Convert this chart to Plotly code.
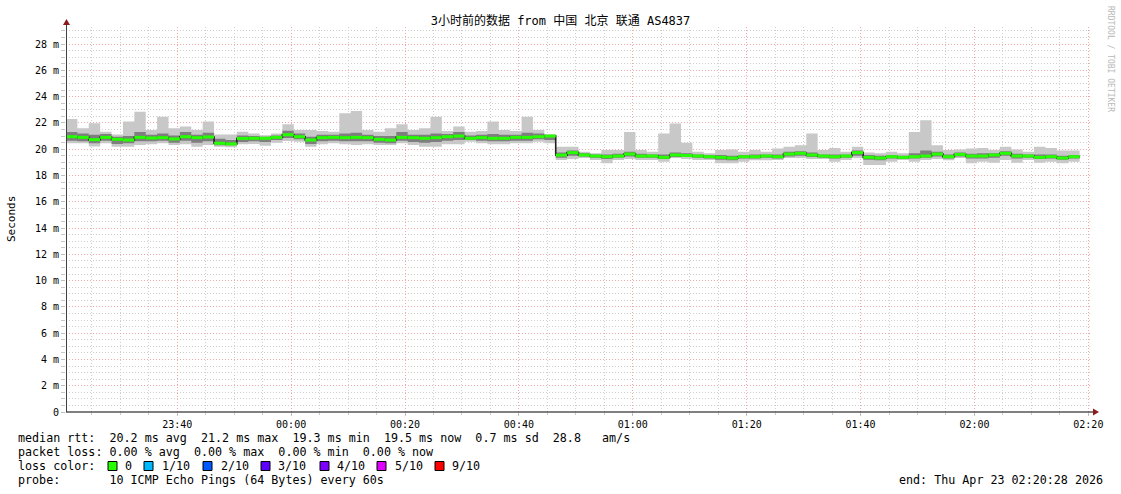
import plotly.graph_objects as go
import pandas as pd

# ---------------- data (values in ms, 2-minute steps) ----------------
start_time = "2026-04-22 23:20:28"
end_time = "2026-04-23 02:20:28"
step_minutes = 2

median_ms = [20.95, 20.90, 20.73, 20.90, 20.75, 20.70, 20.90, 20.85, 20.88, 20.78,
             20.95, 20.88, 20.93, 20.45, 20.40, 20.82, 20.83, 20.83, 20.90, 21.10,
             20.95, 20.70, 20.88, 20.90, 20.88, 20.90, 20.88, 20.75, 20.70, 20.90,
             20.88, 20.83, 20.88, 20.95, 21.00, 20.83, 20.88, 20.83, 20.83, 20.90,
             20.90, 20.95, 21.00, 19.55, 19.74, 19.56, 19.48, 19.43, 19.48, 19.63,
             19.48, 19.48, 19.38, 19.56, 19.52, 19.48, 19.43, 19.38, 19.33, 19.43,
             19.43, 19.48, 19.43, 19.63, 19.69, 19.56, 19.48, 19.43, 19.48, 19.74,
             19.38, 19.33, 19.43, 19.38, 19.43, 19.48, 19.63, 19.43, 19.60, 19.48,
             19.48, 19.56, 19.69, 19.48, 19.48, 19.38, 19.43, 19.33, 19.43]

high_ms = [22.30, 21.60, 21.97, 21.33, 21.12, 22.10, 22.85, 21.46, 22.47, 21.59,
           21.72, 21.46, 22.10, 21.12, 21.12, 21.33, 21.20, 21.07, 21.20, 21.90,
           21.46, 21.46, 21.38, 21.33, 22.73, 22.90, 21.46, 21.33, 21.59, 21.90,
           21.46, 21.59, 22.47, 21.38, 21.72, 21.33, 21.38, 22.10, 21.46, 21.38,
           22.47, 21.46, 21.12, 20.19, 20.19, 19.81, 19.69, 19.94, 19.94, 21.30,
           19.94, 19.81, 21.20, 21.95, 20.50, 19.81, 19.69, 19.94, 19.98, 19.81,
           19.94, 19.81, 20.06, 20.19, 20.30, 21.20, 19.94, 20.10, 19.81, 20.19,
           19.75, 19.69, 19.81, 19.69, 21.30, 22.20, 20.30, 19.94, 19.98, 20.06,
           20.10, 19.94, 20.19, 19.98, 19.81, 20.19, 20.10, 19.90, 19.90]

low_ms = [20.45, 20.45, 20.20, 20.45, 20.19, 20.19, 20.32, 20.37, 20.45, 20.32,
          20.37, 20.19, 20.32, 20.19, 20.15, 20.37, 20.40, 20.27, 20.50, 20.62,
          20.57, 20.19, 20.37, 20.45, 20.37, 20.32, 20.37, 20.32, 20.32, 20.45,
          20.32, 20.19, 20.19, 20.37, 20.37, 20.57, 20.45, 20.37, 20.37, 20.45,
          20.45, 20.57, 20.45, 19.18, 19.25, 19.33, 19.18, 18.93, 19.18, 19.25,
          19.18, 19.18, 19.05, 19.33, 19.25, 19.18, 19.18, 18.93, 18.93, 19.05,
          19.15, 19.15, 19.18, 19.33, 19.33, 19.25, 19.25, 19.05, 19.18, 19.33,
          18.80, 18.80, 19.05, 19.18, 19.05, 19.18, 19.25, 19.15, 19.33, 18.93,
          19.05, 18.97, 19.18, 18.97, 19.18, 18.97, 19.05, 18.93, 19.05]

inner_high_ms = [21.30, 21.20, 21.10, 21.15, 20.95, 21.00, 21.30, 21.10, 21.20, 21.05,
                 21.30, 21.10, 21.25, 20.80, 20.70, 21.05, 21.00, 20.95, 21.05, 21.40,
                 21.20, 20.95, 21.10, 21.10, 21.20, 21.25, 21.10, 21.00, 21.00, 21.30,
                 21.10, 21.10, 21.20, 21.15, 21.30, 21.05, 21.10, 21.15, 21.10, 21.10,
                 21.25, 21.20, 21.10, 19.75, 19.90, 19.70, 19.60, 19.60, 19.65, 19.80,
                 19.65, 19.60, 19.60, 19.75, 19.70, 19.60, 19.55, 19.55, 19.50, 19.55,
                 19.60, 19.60, 19.60, 19.80, 19.85, 19.75, 19.60, 19.60, 19.60, 19.90,
                 19.55, 19.50, 19.55, 19.50, 19.70, 19.90, 19.80, 19.60, 19.75, 19.65,
                 19.70, 19.70, 19.85, 19.65, 19.60, 19.60, 19.60, 19.50, 19.55]

inner_low_ms = [20.65, 20.60, 20.45, 20.65, 20.40, 20.45, 20.60, 20.60, 20.65, 20.50,
                20.65, 20.50, 20.60, 20.30, 20.30, 20.55, 20.60, 20.55, 20.70, 20.85,
                20.75, 20.40, 20.60, 20.65, 20.60, 20.60, 20.60, 20.50, 20.45, 20.65,
                20.55, 20.50, 20.55, 20.65, 20.70, 20.70, 20.65, 20.60, 20.60, 20.65,
                20.65, 20.75, 20.70, 19.35, 19.50, 19.45, 19.35, 19.25, 19.35, 19.45,
                19.35, 19.35, 19.25, 19.40, 19.40, 19.35, 19.30, 19.20, 19.15, 19.30,
                19.30, 19.35, 19.30, 19.45, 19.50, 19.40, 19.35, 19.30, 19.35, 19.50,
                19.20, 19.15, 19.30, 19.30, 19.30, 19.35, 19.45, 19.30, 19.45, 19.30,
                19.30, 19.35, 19.50, 19.30, 19.35, 19.25, 19.30, 19.20, 19.30]

y_tick_values = list(range(0, 30, 2))
y_tick_labels = ["0"] + [f"{v} m" for v in y_tick_values[1:]]

title_text = "3小时前的数据 from 中国 北京 联通 AS4837"
stats_lines = [
    "median rtt:  20.2 ms avg  21.2 ms max  19.3 ms min  19.5 ms now  0.7 ms sd  28.8   am/s",
    "packet loss: 0.00 % avg  0.00 % max  0.00 % min  0.00 % now",
    "loss color:",
    "probe:       10 ICMP Echo Pings (64 Bytes) every 60s",
]
loss_labels = ["0", "1/10", "2/10", "3/10", "4/10", "5/10", "9/10"]
loss_colors = ["#26ff00", "#00b8ff", "#0059ff", "#5e00ff", "#7e00ff", "#dd00ff", "#ff0000"]
end_text = "end: Thu Apr 23 02:20:28 2026"

# ---------------- geometry helpers ----------------
W, H = 1121, 494
ML, MR, MT, MB = 66, 30, 27, 82
PW, PH = W - ML - MR, H - MT - MB


def px_x(px):
    return (px - ML) / PW


def px_y(py):
    return (H - MB - py) / PH


# ---------------- build traces ----------------
t0 = pd.Timestamp(start_time)
step = pd.Timedelta(minutes=step_minutes)
times = [t0 + step * i for i in range(len(median_ms) + 1)]


def closed(vals):
    return list(vals) + [vals[-1]]


MONO = "DejaVu Sans Mono"
fig = go.Figure()

fig.add_trace(go.Scatter(x=times, y=closed(low_ms), mode="lines", line=dict(width=0, shape="hv"),
                         hoverinfo="skip"))
fig.add_trace(go.Scatter(x=times, y=closed(high_ms), mode="lines", line=dict(width=0, shape="hv"),
                         fill="tonexty", fillcolor="#c8c8c8", hoverinfo="skip"))
fig.add_trace(go.Scatter(x=times, y=closed(inner_low_ms), mode="lines", line=dict(width=0, shape="hv"),
                         hoverinfo="skip"))
fig.add_trace(go.Scatter(x=times, y=closed(inner_high_ms), mode="lines", line=dict(width=0, shape="hv"),
                         fill="tonexty", fillcolor="#7e7e7e", hoverinfo="skip"))
# thin dark median (gives the black connectors)
fig.add_trace(go.Scatter(x=times, y=closed(median_ms), mode="lines",
                         line=dict(width=1.6, shape="hv", color="#202020"), hoverinfo="skip"))
# green horizontal median segments
gx, gy = [], []
for i, m in enumerate(median_ms):
    gx += [times[i], times[i + 1], None]
    gy += [m, m, None]
fig.add_trace(go.Scatter(x=gx, y=gy, mode="lines", line=dict(width=3, color="#26ff00"),
                         connectgaps=False, hoverinfo="skip"))

# ---------------- layout ----------------
fig.update_layout(
    width=W, height=H, autosize=False,
    margin=dict(l=ML, r=MR, t=MT, b=MB, pad=0),
    paper_bgcolor="white", plot_bgcolor="white",
    showlegend=False,
    font=dict(family=MONO, size=10, color="#000000"),
    title=dict(text=title_text, x=0.5, xanchor="center", xref="container",
               y=1 - 21 / H, yanchor="middle", yref="container",
               font=dict(family=MONO + ", Noto Sans CJK SC", size=12, color="#000000")),
)

DOT = "1px,2px"
MAJ = "#f4a6a6"
MIN = "#cfcfcf"

fig.update_xaxes(
    type="date",
    range=[pd.Timestamp(start_time), pd.Timestamp(end_time)],
    tickformat="%H:%M",
    dtick=20 * 60 * 1000,
    tick0="2026-04-22 23:40:00",
    showgrid=True, gridcolor=MAJ, griddash=DOT, gridwidth=1,
    ticks="outside", ticklen=3, tickcolor="#c0c0c0",
    tickfont=dict(family=MONO, size=10, color="#000000"),
    showline=False, zeroline=False,
    minor=dict(dtick=5 * 60 * 1000, tick0="2026-04-22 23:20:00", showgrid=True,
               gridcolor=MIN, griddash=DOT, gridwidth=1,
               ticks="outside", ticklen=2, tickcolor="#c8c8c8"),
    fixedrange=True,
)

fig.update_yaxes(
    range=[0, 29.3],
    tickvals=y_tick_values, ticktext=y_tick_labels,
    showgrid=True, gridcolor=MAJ, griddash=DOT, gridwidth=1,
    ticks="outside", ticklen=4, tickcolor="#c0c0c0",
    tickfont=dict(family=MONO, size=10, color="#000000"),
    showline=False, zeroline=False,
    minor=dict(dtick=0.5, showgrid=True, gridcolor=MIN, griddash=DOT, gridwidth=1,
               ticks="outside", ticklen=4, tickcolor="#c8c8c8"),
    fixedrange=True,
)

# ---------------- axes with arrows ----------------
shapes = []
axis_col = "#000000"
arrow_col = "#8b1c1c"
shapes.append(dict(type="line", xref="paper", yref="paper", x0=px_x(66), x1=px_x(1094),
                   y0=px_y(412), y1=px_y(412), line=dict(color=axis_col, width=1), layer="above"))
shapes.append(dict(type="line", xref="paper", yref="paper", x0=px_x(66.5), x1=px_x(66.5),
                   y0=px_y(412), y1=px_y(24), line=dict(color="#404040", width=1), layer="above"))
shapes.append(dict(type="path", xref="paper", yref="paper",
                   path=f"M {px_x(1093)} {px_y(408.5)} L {px_x(1099)} {px_y(412)} L {px_x(1093)} {px_y(415.5)} Z",
                   fillcolor=arrow_col, line=dict(color=arrow_col, width=0), layer="above"))
shapes.append(dict(type="path", xref="paper", yref="paper",
                   path=f"M {px_x(63)} {px_y(25)} L {px_x(66.5)} {px_y(19)} L {px_x(70)} {px_y(25)} Z",
                   fillcolor=arrow_col, line=dict(color=arrow_col, width=0), layer="above"))

square_left = [108, 144, 203, 261, 320, 377, 435]
label_left = [123, 160, 219, 276, 335, 393, 450]
for sx, col in zip(square_left, loss_colors):
    shapes.append(dict(type="rect", xref="paper", yref="paper",
                       x0=px_x(sx), x1=px_x(sx + 9), y0=px_y(470.5), y1=px_y(461.5),
                       fillcolor=col, line=dict(color="#000000", width=1)))

annotations = []
NB = "\u00a0"
LEG_SIZE = 11.7
for text, py in zip(stats_lines, [438, 452, 466, 480]):
    annotations.append(dict(text=text.replace(" ", NB), xref="paper", yref="paper",
                            x=px_x(16), y=px_y(py), xanchor="left", yanchor="middle",
                            showarrow=False, font=dict(family=MONO, size=LEG_SIZE, color="#000000")))
for lx, lab in zip(label_left, loss_labels):
    annotations.append(dict(text=lab, xref="paper", yref="paper",
                            x=px_x(lx), y=px_y(466), xanchor="left", yanchor="middle",
                            showarrow=False, font=dict(family=MONO, size=LEG_SIZE, color="#000000")))
annotations.append(dict(text=end_text.replace(" ", NB), xref="paper", yref="paper",
                        x=px_x(1105), y=px_y(480), xanchor="right", yanchor="middle",
                        showarrow=False, font=dict(family=MONO, size=LEG_SIZE, color="#000000")))
annotations.append(dict(text="Seconds", xref="paper", yref="paper",
                        x=px_x(11), y=px_y(219), xanchor="center", yanchor="middle",
                        textangle=-90, showarrow=False,
                        font=dict(family=MONO, size=11, color="#000000")))
annotations.append(dict(text="RRDTOOL / TOBI OETIKER", xref="paper", yref="paper",
                        x=px_x(1111), y=px_y(59), xanchor="center", yanchor="middle",
                        textangle=90, showarrow=False,
                        font=dict(family=MONO, size=8, color="#b8b8b8")))

fig.update_layout(shapes=shapes, annotations=annotations)

fig.write_html("out.html",
               config={"displayModeBar": False, "staticPlot": True},
               post_script="document.body.style.margin='0';document.body.style.padding='0';")
